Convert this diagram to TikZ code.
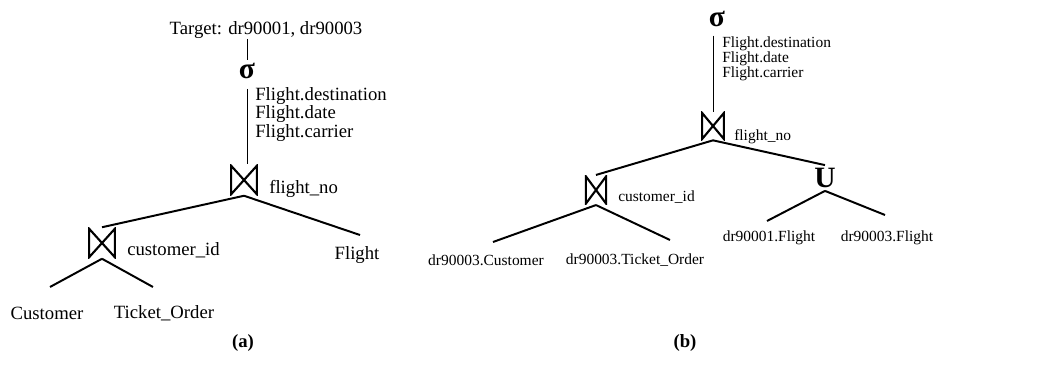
\documentclass[tikz,border=0pt]{standalone}
\usepackage{fontspec}
\setmainfont{Liberation Serif}

\begin{document}
\begin{tikzpicture}[x=0.025cm,y=-0.025cm,
  txt/.style={inner sep=0pt,font=\fontsize{13.3}{11}\selectfont},
  small/.style={inner sep=0pt,font=\fontsize{11}{11}\selectfont},
  attr/.style={align=left,anchor=north west},
  op/.style={inner sep=2pt,font=\fontsize{21}{21}\selectfont\bfseries},
  joinop/.style={minimum width=20pt,minimum height=22pt,inner sep=0pt,
    path picture={\draw[line width=1.5pt]
      ([shift={(0.8pt,0.8pt)}]path picture bounding box.south west) --
      ([shift={(0.8pt,-0.8pt)}]path picture bounding box.north west) --
      ([shift={(-0.8pt,0.8pt)}]path picture bounding box.south east) --
      ([shift={(-0.8pt,-0.8pt)}]path picture bounding box.north east) -- cycle;}},
  branch/.style={line width=1.4pt},
  stem/.style={line width=0.7pt}]
  \useasboundingbox (0,0) rectangle (1054,385);

  % (a) query tree
  \node[txt] (tgt) at (266,30) {Target: dr90001, dr90003};
  \node[op] (s1) at (247,71) {σ};
  \node[txt,attr] (p1) at (255,87) {Flight.destination\\Flight.date\\Flight.carrier};
  \node[joinop] (j1) at (244,180) {};
  \node[txt,anchor=west] (l1) at (269,189) {flight\_no};
  \node[joinop] (j2) at (102,243) {};
  \node[txt,anchor=west] (l2) at (127,250) {customer\_id};
  \node[txt] (f1) at (357,255) {Flight};
  \node[txt] (c1) at (47,313) {Customer};
  \node[txt] (t1) at (164,313) {Ticket\_Order};
  \node[txt,font=\fontsize{13.3}{11}\selectfont\bfseries] (ca) at (243,343) {(a)};

  \coordinate (a1) at (360,235);
  \coordinate (a2) at (50,287);
  \coordinate (a3) at (153,287);

  \draw[stem] (tgt.south -| s1) -- (s1.north);
  \draw[stem,shorten <=5pt] (s1.south) -- (s1.south |- j1.north);
  \draw[branch] (j1.south) -- (j2.north);
  \draw[branch] (j1.south) -- (a1);
  \draw[branch] (j2.south) -- (a2);
  \draw[branch] (j2.south) -- (a3);

  % (b) query tree
  \node[op] (s2) at (717,19) {σ};
  \node[small,attr] (p2) at (722,36) {Flight.destination\\Flight.date\\Flight.carrier};
  \node[joinop,minimum width=17pt,minimum height=20pt] (j3) at (713,126) {};
  \node[small,anchor=west] (l3) at (734,137) {flight\_no};
  \node[op] (u) at (825,178) {U};
  \node[joinop,minimum width=16pt,minimum height=21pt] (j4) at (596,190) {};
  \node[small,anchor=west] (l4) at (618,197) {customer\_id};
  \node[small] (c2) at (486,260) {dr90003.Customer};
  \node[small] (t2) at (635,260) {dr90003.Ticket\_Order};
  \node[small] (f2) at (769,238) {dr90001.Flight};
  \node[small] (f3) at (887,238) {dr90003.Flight};
  \node[txt,font=\fontsize{13.3}{11}\selectfont\bfseries] (cb) at (685,343) {(b)};

  \coordinate (b1) at (493,242);
  \coordinate (b2) at (670,240);
  \coordinate (b3) at (767,221);
  \coordinate (b4) at (885,215);

  \draw[stem,shorten <=4pt] (j3.north |- s2.south) -- (j3.north);
  \draw[branch] (j3.south) -- (j4.north);
  \draw[branch] (j3.south) -- (u.north);
  \draw[branch] (j4.south) -- (b1);
  \draw[branch] (j4.south) -- (b2);
  \draw[branch] (u.south) -- (b3);
  \draw[branch] (u.south) -- (b4);
\end{tikzpicture}
\end{document}
